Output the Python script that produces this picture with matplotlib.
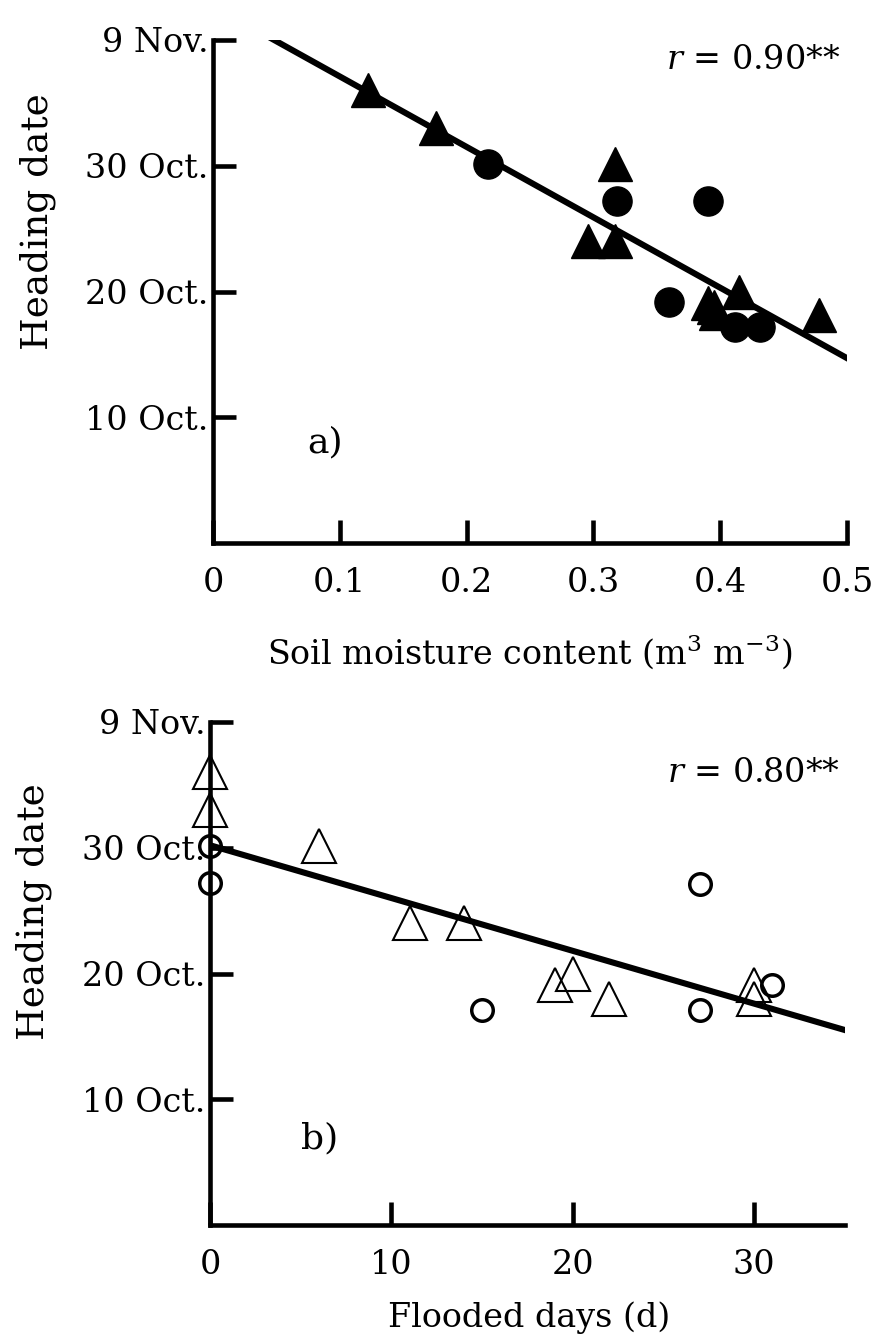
import numpy as np
import matplotlib
matplotlib.use("Agg")
import matplotlib.pyplot as plt

plt.rcParams['font.family'] = ['DejaVu Serif']
plt.rcParams['mathtext.fontset'] = 'dejavuserif'

# Heading date as days after 30 Sep (10 = 10 Oct., 40 = 9 Nov.)
ytick_vals = [10, 20, 30, 40]
ytick_labels = ["10 Oct.", "20 Oct.", "30 Oct.", "9 Nov."]

# a) soil moisture content (m3 m-3)
soil_tri_x = [0.122, 0.176, 0.296, 0.317, 0.317, 0.390, 0.397, 0.395, 0.415, 0.478]
soil_tri_y = [36.0, 33.0, 24.0, 24.0, 30.1, 19.1, 18.3, 18.8, 20.0, 18.1]
soil_circ_x = [0.217, 0.319, 0.360, 0.390, 0.412, 0.431]
soil_circ_y = [30.1, 27.2, 19.2, 27.2, 17.2, 17.2]
soil_fit = (42.7, -56.0)   # intercept, slope
soil_xticks = [0, 0.1, 0.2, 0.3, 0.4, 0.5]
soil_xlabels = ["0", "0.1", "0.2", "0.3", "0.4", "0.5"]

# b) flooded days
flood_tri_x = [0, 0, 6, 11, 14, 19, 20, 22, 30, 30]
flood_tri_y = [36.0, 33.0, 30.1, 24.0, 24.0, 19.1, 20.0, 18.0, 19.1, 18.0]
flood_circ_x = [0, 0, 15, 27, 27, 31]
flood_circ_y = [30.1, 27.2, 17.1, 27.1, 17.1, 19.1]
flood_fit = (30.2, -0.42)
flood_xticks = [0, 10, 20, 30]
flood_xlabels = ["0", "10", "20", "30"]

W, H = 876, 1341
fs = 24
fig = plt.figure(figsize=(W / 100, H / 100), dpi=100)
ax1 = fig.add_axes([213 / W, 1 - 543 / H, 634 / W, 503 / H])
ax2 = fig.add_axes([210 / W, 1 - 1225 / H, 635 / W, 503 / H])


def style(ax, xmax, xticks, xlabels):
    ax.set_xlim(0, xmax)
    ax.set_ylim(0, 40)
    for s in ['top', 'right']:
        ax.spines[s].set_visible(False)
    for s in ['left', 'bottom']:
        ax.spines[s].set_linewidth(3.3)
    ax.set_xticks(xticks)
    ax.set_xticklabels(xlabels)
    ax.set_yticks(ytick_vals)
    ax.set_yticklabels(ytick_labels)
    ax.tick_params(axis='both', direction='in', length=16.5, width=3.3, labelsize=fs)
    ax.tick_params(axis='x', pad=17)
    ax.tick_params(axis='y', pad=3)


# panel a
style(ax1, 0.5, soil_xticks, soil_xlabels)
xx = np.array([0, 0.5])
ax1.plot(xx, soil_fit[0] + soil_fit[1] * xx, color='black', lw=4.4, zorder=2)
ax1.plot(soil_tri_x, soil_tri_y, linestyle='none', marker='^', ms=25, color='black',
         mec='black', zorder=3, clip_on=False)
ax1.plot(soil_circ_x, soil_circ_y, linestyle='none', marker='o', ms=21, color='black',
         mec='black', zorder=3, clip_on=False)
ax1.text(840 / W, 1 - 60 / H, r"$r$ = 0.90**", transform=fig.transFigure,
         fontsize=fs, ha='right', va='center')
ax1.text(325 / W, 1 - 442 / H, "a)", transform=fig.transFigure,
         fontsize=26, ha='center', va='center')
fig.text(38 / W, 1 - 222 / H, "Heading date", rotation=90, fontsize=27,
         ha='center', va='center')
fig.text(530 / W, 1 - 652 / H, "Soil moisture content (m$^{3}$ m$^{-3}$)",
         fontsize=fs, ha='center', va='center')

# panel b
style(ax2, 35, flood_xticks, flood_xlabels)
xx = np.array([0, 35])
ax2.plot(xx, flood_fit[0] + flood_fit[1] * xx, color='black', lw=4.4, zorder=2)
ax2.plot(flood_tri_x, flood_tri_y, linestyle='none', marker='^', ms=24, mfc='none',
         mec='black', mew=1.5, zorder=3, clip_on=False)
ax2.plot(flood_circ_x, flood_circ_y, linestyle='none', marker='o', ms=15.5, mfc='none',
         mec='black', mew=2.5, zorder=3, clip_on=False)
ax2.text(840 / W, 1 - 773 / H, r"$r$ = 0.80**", transform=fig.transFigure,
         fontsize=fs, ha='right', va='center')
ax2.text(320 / W, 1 - 1138 / H, "b)", transform=fig.transFigure,
         fontsize=26, ha='center', va='center')
fig.text(34 / W, 1 - 912 / H, "Heading date", rotation=90, fontsize=27,
         ha='center', va='center')
fig.text(529 / W, 1 - 1318 / H, "Flooded days (d)",
         fontsize=24, ha='center', va='center')

fig.savefig("out.png", dpi=100)
